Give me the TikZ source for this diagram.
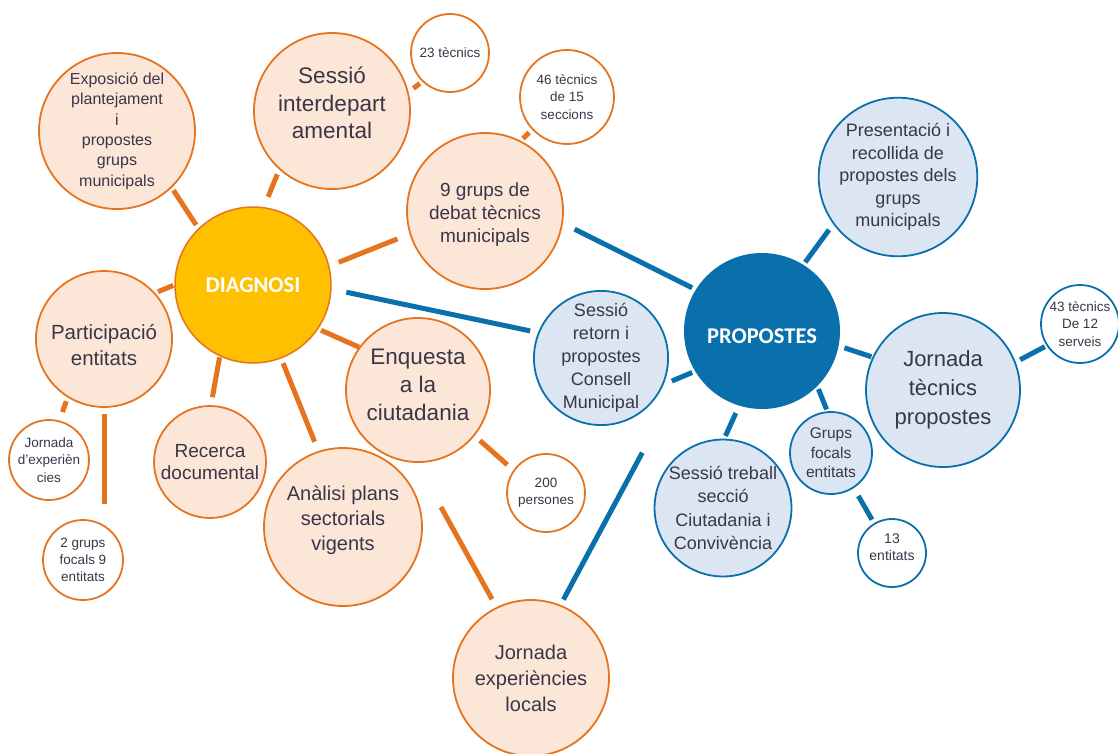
\documentclass[tikz,border=0pt]{standalone}
\usepackage{fontspec}
\setmainfont{Liberation Sans}
\newfontfamily\hubfont{Carlito}
\usetikzlibrary{calc}

\definecolor{diagorange}{RGB}{230,116,30}
\definecolor{diagfill}{RGB}{252,230,216}
\definecolor{diagyellow}{RGB}{255,192,0}
\definecolor{propblue}{RGB}{10,112,172}
\definecolor{propfill}{RGB}{220,230,242}
\definecolor{textgray}{RGB}{58,54,72}

\newcommand{\fsz}[2]{\fontsize{#1}{#2}\selectfont}

\begin{document}
\begin{tikzpicture}[x=1pt,y=-1pt,
    bub/.style={circle, inner sep=0pt, align=center, text=textgray, line width=1.8pt},
    obub/.style={bub, draw=diagorange, fill=diagfill},
    owhite/.style={bub, draw=diagorange, fill=white},
    bbub/.style={bub, draw=propblue, fill=propfill},
    bwhite/.style={bub, draw=propblue, fill=white},
    txtlbl/.style={align=center, text=textgray, inner sep=0pt},
    hub/.style={circle, inner sep=0pt, text=white, font=\hubfont\bfseries\fsz{22.5}{27}},
    oline/.style={draw=diagorange, line width=5pt},
    bline/.style={draw=propblue, line width=5pt}]
  \useasboundingbox (0,0) rectangle (1118,753);

  % diagnosi
  \node[hub, fill=diagyellow, draw=diagorange, line width=1.5pt, minimum size=156] (diag) at (253,285) {DIAGNOSI};
  \node[obub, minimum size=156, font=\fsz{16}{20.4}] (expos) at (117,131) {Exposició del\\plantejament\\i\\propostes\\grups\\municipals};
  \node[obub, minimum size=156, label={[txtlbl, font=\fsz{22.5}{27.5}, yshift=8pt]center:{Sessió\\interdepart\\amental}}] (sessio) at (332,111) {};
  \node[owhite, minimum size=78, font=\fsz{13.5}{17.5}] (tec23) at (450,53) {23 tècnics};
  \node[owhite, minimum size=94, font=\fsz{13.5}{17.5}] (tec46) at (567,97) {46 tècnics\\de 15\\seccions};
  \node[obub, minimum size=156, label={[txtlbl, font=\fsz{19}{23}, yshift=-4pt]center:{9 grups de\\debat tècnics\\municipals}}] (grups9) at (485,211) {};
  \node[obub, minimum size=136, label={[txtlbl, font=\fsz{20.5}{26}, yshift=-6pt]center:{Participació\\entitats}}] (particip) at (104,339) {};
  \node[owhite, minimum size=80, font=\fsz{13.5}{17.5}] (jornsm) at (49,460) {Jornada\\d’experièn\\cies};
  \node[owhite, minimum size=80, font=\fsz{13.5}{17}] (focals2) at (83,560) {2 grups\\focals 9\\entitats};
  \node[obub, minimum size=112, font=\fsz{19}{22}] (recerca) at (210,462) {Recerca\\documental};
  \node[obub, minimum size=144, label={[txtlbl, font=\fsz{22.5}{28}, yshift=5pt]center:{Enquesta\\a la\\ciutadania}}] (enquesta) at (418,390) {};
  \node[owhite, minimum size=78, font=\fsz{13.5}{17}] (pers200) at (546,493) {200\\persones};
  \node[obub, minimum size=158, label={[txtlbl, font=\fsz{20}{25}, yshift=7pt]center:{Anàlisi plans\\sectorials\\vigents}}] (analisi) at (343,527) {};
  \node[obub, minimum size=156, font=\fsz{20}{26}] (jornloc) at (531,678) {Jornada\\experiències\\locals};

  % propostes
  \node[hub, fill=propblue, minimum size=156, label={[text=white, font=\hubfont\bfseries\fsz{22.5}{27}, inner sep=0pt, yshift=-5pt]center:PROPOSTES}] (prop) at (762,331) {};
  \node[bbub, minimum size=154, font=\fsz{18}{22.5}] (presenta) at (898,177) {Presentació i\\recollida de\\propostes dels\\grups\\municipals};
  \node[bbub, minimum size=132, font=\fsz{18}{23}] (retorn) at (601,358) {Sessió\\retorn i\\propostes\\Consell\\Municipal};
  \node[bbub, minimum size=154, font=\fsz{22}{29}] (jorntec) at (943,390) {Jornada\\tècnics\\propostes};
  \node[bwhite, minimum size=78, font=\fsz{13.5}{17.5}] (tec43) at (1080,324) {43 tècnics\\De 12\\serveis};
  \node[bbub, minimum size=82, font=\fsz{15.5}{19.5}] (grupsfb) at (831,453) {Grups\\focals\\entitats};
  \node[bwhite, minimum size=68, label={[txtlbl, font=\fsz{14}{17}, yshift=6pt]center:{13\\entitats}}] (ent13) at (892,553) {};
  \node[bbub, minimum size=134, font=\fsz{18}{23.5}] (treball) at (723,508) {Sessió treball\\secció\\Ciutadania i\\Convivència};

  \draw[oline, shorten <=3pt, shorten >=4pt] (expos.-46) -- (diag.134);
  \draw[oline, shorten <=5pt, shorten >=11pt] (sessio.-132) -- (diag.82);
  \draw[oline, shorten <=6pt, shorten >=3pt] (sessio.14) -- (tec23.-134);
  \draw[oline, shorten <=13pt, shorten >=10pt] (grups9.197) -- (diag.14);
  \draw[oline, shorten <=3pt, shorten >=4pt] (grups9.63) -- (tec46.-137);
  \draw[oline, shorten <=3pt, shorten >=1pt] (particip.42) -- (diag.180);
  \draw[oline, shorten <=4pt, shorten >=9pt] (particip.-122) -- (jornsm.75);
  \draw[oline, shorten <=6pt, shorten >=15pt] (particip.south) -- (particip.south |- focals2.north);
  \draw[oline, shorten <=1pt, shorten >=8pt] (diag.-115) -- (recerca.89);
  \draw[oline, shorten <=5pt, shorten >=10pt] (diag.-69) -- (analisi.108);
  \draw[oline, shorten <=3pt] (diag.-34) -- (enquesta.144);
  \draw[oline, shorten <=7pt, shorten >=8pt] (enquesta.-39) -- (pers200.145);
  \draw[oline, shorten >=9pt] ([shift={(18,-20)}]analisi.east) -- (jornloc.116);

  \draw[bline, shorten <=15pt, shorten >=8pt] (diag.-3) -- (retorn.158);
  \draw[bline, shorten <=13pt, shorten >=4pt] (grups9.-9) -- (prop.148);
  \draw[bline, shorten <=9pt, shorten >=3pt] (retorn.-23) -- (prop.211);
  \draw[bline, shorten <=3pt, shorten >=7pt] (prop.58) -- (presenta.216);
  \draw[bline, shorten <=6pt, shorten >=1pt] (prop.-11) -- (jorntec.155);
  \draw[bline, shorten <=5pt, shorten >=2pt] (jorntec.21) -- (tec43.-147);
  \draw[bline, shorten <=3pt, shorten >=2pt] (prop.-45) -- (grupsfb.95);
  \draw[bline, shorten <=9pt, shorten >=4pt] (grupsfb.-57) -- (ent13.121);
  \draw[bline, shorten <=8pt, shorten >=3pt] (prop.-107) -- (treball.89);
  \draw[bline, shorten <=6pt, shorten >=102pt] (jornloc.68) -- (prop.204);
\end{tikzpicture}
\end{document}
